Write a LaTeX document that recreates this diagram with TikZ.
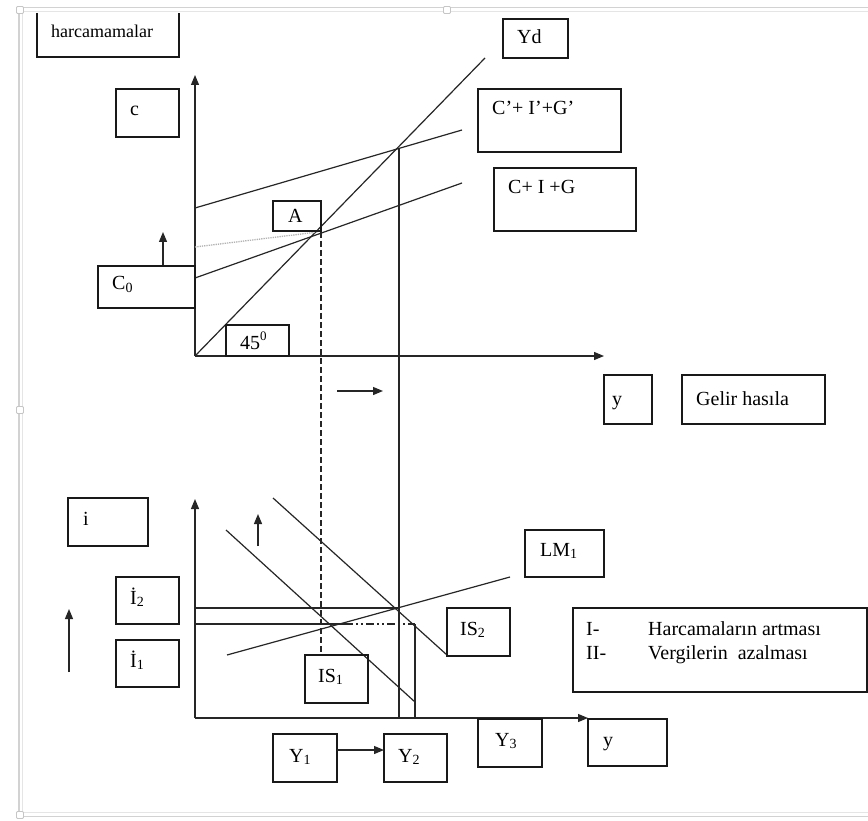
\documentclass[tikz,border=0pt]{standalone}
\usepackage{fontspec}
\setmainfont{Liberation Serif}
\usetikzlibrary{arrows.meta}
\newcommand\lsub[1]{\raisebox{-0.12em}{\fontsize{14}{14}\selectfont #1}}
\newcommand\hsup[1]{\raisebox{0.42em}{\fontsize{13}{13}\selectfont #1}}
\begin{document}
\begin{tikzpicture}[x=1pt,y=-1pt,
  ln/.style={line width=1.2pt, draw=black!85},
  arr/.style={ln, -{Triangle[length=10pt,width=8pt]}},
  bx/.style={draw=black!90, line width=1.2pt, anchor=north west, inner sep=0pt, outer sep=0pt},
  lbl/.style={anchor=base west, inner sep=0pt, font=\fontsize{20}{24}\selectfont},
  frame1/.style={draw=gray!35, line width=1.5pt},
  frame2/.style={draw=gray!20, line width=1.5pt},
  handle/.style={draw=gray!45, fill=white, line width=0.8pt, minimum size=7pt, inner sep=0pt, rounded corners=1pt}]
\useasboundingbox (0,0) rectangle (868,821);
\fill[white] (0,0) rectangle (868,821);
% frame
\draw[frame1] (868,7.5) -- (19,7.5) -- (19,816.5) -- (868,816.5);
\draw[frame2] (868,11.5) -- (22.5,11.5) -- (22.5,812.5) -- (868,812.5);
\node[handle] (h1) at (20,10) {};
\node[handle] (h2) at (447,10) {};
\node[handle] (h3) at (20,410) {};
\node[handle] (h4) at (20,815) {};

% ---------- top graph ----------
\draw[arr] (195,356) -- (195,75);
\draw[arr] (195,356) -- (604,356);
\draw[ln] (195,356) -- (485,58);
\draw[ln] (195,278) -- (462,183);
\draw[ln] (195,208) -- (462,130);
\draw[line width=1.3pt, draw=gray!60, densely dotted] (195,247) -- (318,232);
\draw[ln, dash pattern=on 6pt off 3pt] (321,232) -- (321,655);
\draw[ln] (399,148) -- (399,718);
\draw[arr] (163,266) -- (163,232);
\draw[arr] (337,391) -- (383,391);

% harcamamalar box (top edge hidden)
\draw[draw=black!90, line width=1.2pt] (37,13) -- (37,57) -- (179,57) -- (179,13);
\node[lbl, font=\fontsize{18}{22}\selectfont] (tharc) at (51,38) {harcamamalar};

\node[bx, minimum width=63pt, minimum height=48pt] (cbox) at (116,89) {};
\node[lbl] (tc) at (130,116) {c};
\node[bx, minimum width=65pt, minimum height=39pt] (ydbox) at (503,19) {};
\node[lbl] (tyd) at (517,44) {Yd};
\node[bx, minimum width=143pt, minimum height=63pt] (cpbox) at (478,89) {};
\node[lbl] (tcp) at (492,115) {C’+ I’+G’};
\node[bx, minimum width=142pt, minimum height=63pt] (cigbox) at (494,168) {};
\node[lbl] (tcig) at (508,194) {C+ I +G};
\node[bx, minimum width=48pt, minimum height=30pt] (abox) at (273,201) {};
\node[lbl] (ta) at (288,223) {A};
\node[bx, minimum width=97pt, minimum height=42pt] (c0box) at (98,266) {};
\node[lbl] (tc0) at (112,290) {C\lsub{0}};
\node[bx, minimum width=63pt, minimum height=31pt] (fbox) at (226,325) {};
\node[lbl] (tf) at (240,349) {45\hsup{0}};
\node[bx, minimum width=48pt, minimum height=49pt] (ytbox) at (604,375) {};
\node[lbl] (tyt) at (612,405) {y};
\node[bx, minimum width=143pt, minimum height=49pt] (gbox) at (682,375) {};
\node[lbl] (tg) at (696,405) {Gelir hasıla};

% ---------- bottom graph ----------
\draw[arr] (195,718) -- (195,499);
\draw[arr] (195,718) -- (588,718);
\draw[ln] (195,608) -- (399,608);
\draw[ln] (195,624) -- (345,624);
\draw[ln, dash pattern=on 8pt off 3pt on 2pt off 3pt on 2pt off 3pt] (345,624) -- (415,624);
\draw[ln] (415,624) -- (415,718);
\draw[ln] (226,530) -- (415,702);
\draw[ln] (273,498) -- (447,655);
\draw[ln] (227,655) -- (510,577);
\draw[arr] (258,546) -- (258,514);
\draw[arr] (69,672) -- (69,609);

\node[bx, minimum width=80pt, minimum height=48pt] (ibox) at (68,498) {};
\node[lbl] (ti) at (83,525) {i};
\node[bx, minimum width=63pt, minimum height=47pt] (i2box) at (116,577) {};
\node[lbl] (ti2) at (130,604) {İ\lsub{2}};
\node[bx, minimum width=63pt, minimum height=47pt] (i1box) at (116,640) {};
\node[lbl] (ti1) at (130,667) {İ\lsub{1}};
\node[bx, minimum width=63pt, minimum height=48pt] (is1box) at (305,655) {};
\node[lbl] (tis1) at (318,682) {IS\lsub{1}};
\node[bx, minimum width=63pt, minimum height=48pt] (is2box) at (447,608) {};
\node[lbl] (tis2) at (460,635) {IS\lsub{2}};
\node[bx, minimum width=79pt, minimum height=47pt] (lmbox) at (525,530) {};
\node[lbl] (tlm) at (540,556) {LM\lsub{1}};
\node[bx, minimum width=64pt, minimum height=48pt] (y3box) at (478,719) {};
\node[lbl] (ty3) at (495,746) {Y\lsub{3}};
\node[bx, minimum width=79pt, minimum height=47pt] (ybbox) at (588,719) {};
\node[lbl] (tyb) at (603,746) {y};
\node[bx, minimum width=64pt, minimum height=48pt] (y1box) at (273,734) {};
\node[lbl] (ty1) at (289,762) {Y\lsub{1}};
\node[bx, minimum width=63pt, minimum height=48pt] (y2box) at (384,734) {};
\node[lbl] (ty2) at (398,762) {Y\lsub{2}};
\draw[arr] ([yshift=8pt]y1box.east) -- ([yshift=8pt]y2box.west);

\node[bx, minimum width=294pt, minimum height=84pt] (legbox) at (573,608) {};
\node[lbl] (l1a) at (586,635) {I-};
\node[lbl] (l1b) at (648,635) {Harcamaların artması};
\node[lbl] (l2a) at (586,659) {II-};
\node[lbl] (l2b) at (648,659) {Vergilerin\ \ azalması};
\end{tikzpicture}
\end{document}
